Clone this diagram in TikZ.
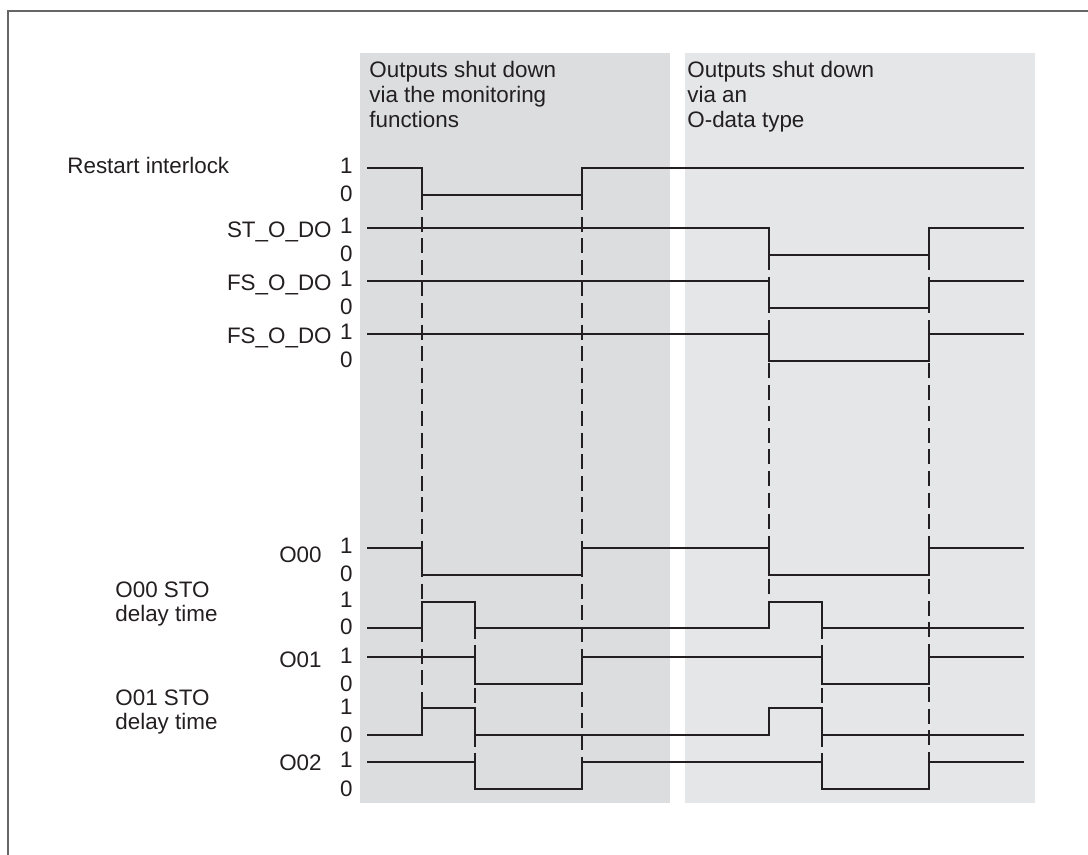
\documentclass[tikz,border=0pt]{standalone}
\usepackage{fontspec}
\setmainfont{Liberation Sans}
\definecolor{shadeA}{RGB}{220,221,223}
\definecolor{shadeB}{RGB}{229,230,232}
\definecolor{ink}{RGB}{35,31,32}
\begin{document}
\begin{tikzpicture}[x=0.5pt, y=-0.5pt]
    \tikzstyle{every node}=[font=\fontsize{11.2}{12.4}\selectfont, inner sep=0pt, text=ink]
    \tikzstyle{digit}=[anchor=base east]
    \tikzstyle{sigtag}=[anchor=base east]
    \tikzstyle{wave}=[draw=ink, line width=1.15pt]
    \tikzstyle{guide}=[draw=ink, line width=1.15pt, dash pattern=on 7.5pt off 3.3pt]
    \useasboundingbox (0,0) rectangle (1088,855);
    \draw[black!60, line width=0.8pt] (8,855) -- (8,11) -- (1088,11);
    \fill[shadeA] (360,53) rectangle (670,803);
    \fill[shadeB] (685,53) rectangle (1035,803);
    \node[anchor=north west, align=left] (head1) at (369,61) {Outputs shut down\\via the monitoring\\functions};
    \node[anchor=north west, align=left] (head2) at (687,61) {Outputs shut down\\via an\\O-data type};
    \node[anchor=base west] (rst) at (67,174) {Restart interlock};
    \node[sigtag] (st) at (332,238) {ST\_O\_DO};
    \node[sigtag] (fs1) at (332,291) {FS\_O\_DO};
    \node[sigtag] (fs2) at (332,344) {FS\_O\_DO};
    \node[sigtag] (o00) at (322,563) {O00};
    \node[anchor=west, align=left] (d00) at (115,604) {O00 STO\\delay time};
    \node[sigtag] (o01) at (322,668) {O01};
    \node[anchor=west, align=left] (d01) at (115,712) {O01 STO\\delay time};
    \node[sigtag] (o02) at (322,770) {O02};
    \foreach \hi/\lo in {168/195, 228/255, 281/308, 334/361, 548/575, 602/628, 657/684, 708/735, 762/789} {
        \node[digit] (one-\hi) at (353,\hi+6) {1};
        \node[digit] (zero-\lo) at (353,\lo+7) {0};
    }
    \draw[guide] (422,195) -- (422,735);
    \draw[guide] (582,195) -- (582,789);
    \draw[guide] (475,602) -- (475,789);
    \draw[guide] (769,255) -- (769,628);
    \draw[guide] (929,255) -- (929,789);
    \draw[guide] (822,602) -- (822,789);
    \draw[wave] (367,168) -| (422,195) -| (582,168) -- (1024,168);
    \draw[wave] (367,228) -| (769,255) -| (929,228) -- (1024,228);
    \draw[wave] (367,281) -| (769,308) -| (929,281) -- (1024,281);
    \draw[wave] (367,334) -| (769,361) -| (929,334) -- (1024,334);
    \draw[wave] (367,548) -| (422,575) -| (582,548) -| (769,575) -| (929,548) -- (1024,548);
    \draw[wave] (367,628) -| (422,602) -| (475,628) -| (769,602) -| (822,628) -- (1024,628);
    \draw[wave] (367,657) -| (475,684) -| (582,657) -| (822,684) -| (929,657) -- (1024,657);
    \draw[wave] (367,735) -| (422,708) -| (475,735) -| (769,708) -| (822,735) -- (1024,735);
    \draw[wave] (367,762) -| (475,789) -| (582,762) -| (822,789) -| (929,762) -- (1024,762);
\end{tikzpicture}
\end{document}
